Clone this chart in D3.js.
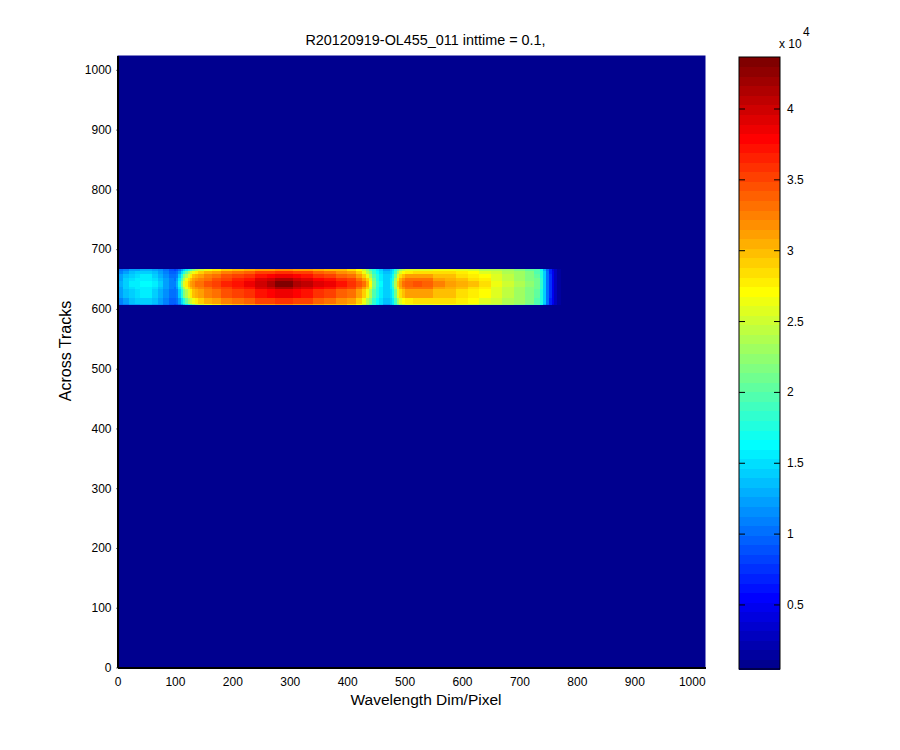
<!DOCTYPE html>
<html><head><meta charset="utf-8">
<style>
html,body{margin:0;padding:0;background:#fff}
svg{display:block}
text{font-family:"Liberation Sans",Arial,sans-serif;fill:#000}
.axis text{font-size:12px}
.axis path,.axis line{stroke:#000}
</style>
<script src="https://cdn.jsdelivr.net/npm/d3@7"></script>
</head><body><svg id="c" width="900" height="750"></svg>
<script>
const titleText = "R20120919-OL455_011 inttime = 0.1,";
const xLabelText = "Wavelength Dim/Pixel";
const yLabelText = "Across Tracks";
const axisTicks = [0,100,200,300,400,500,600,700,800,900,1000];
const cbarTicks = [0.5,1,1.5,2,2.5,3,3.5,4];
const cbarTickLabels = ["0.5","1","1.5","2","2.5","3","3.5","4"];
const axisMax = 1024;
const valueMin = 0.048, valueMax = 4.367;   // units of 10^4

// Wavelength bin starts; the last entry closes the final bin
const wavelengthBins = [0,10,20,30,40,50,60,70,80,90,
 98,102,106,110,114,118,122,126,130,135,
 140,150,165,180,200,220,240,260,275,290,
 305,320,340,360,380,400,415,425,432,438,
 444,450,456,462,468,474,478,482,486,490,
 495,500,515,530,550,570,590,610,630,650,
 670,690,710,725,735,741,746,751,756,761,
 766,771];

const coreScan = [1.3,1.45,1.55,1.6,1.65,1.65,1.55,1.4,1.25,1.12,
 1.08,1.3,1.7,2.2,2.6,2.8,3.0,3.1,3.2,3.3,
 3.35,3.45,3.55,3.65,3.75,3.85,4.0,4.15,4.32,4.32,
 4.15,4.05,3.95,3.85,3.75,3.6,3.45,3.3,3.05,2.7,
 2.2,1.85,1.65,1.45,1.45,1.6,1.9,2.4,2.9,3.15,
 3.3,3.4,3.45,3.4,3.25,3.15,3.05,2.95,2.85,2.65,
 2.5,2.35,2.25,2.1,1.85,1.45,1.05,.75,.5,.3,
 .15];
const stripeScan = [1.25,1.4,1.5,1.55,1.6,1.6,1.5,1.35,1.2,1.08,
 1.04,1.2,1.55,2.0,2.4,2.65,2.85,3.0,3.1,3.2,
 3.25,3.35,3.45,3.55,3.65,3.75,3.9,4.0,4.1,4.1,
 4.0,3.9,3.8,3.7,3.6,3.5,3.35,3.15,2.9,2.55,
 2.1,1.8,1.6,1.42,1.42,1.55,1.8,2.3,2.8,3.05,
 3.2,3.3,3.35,3.3,3.15,3.05,2.95,2.85,2.75,2.6,
 2.45,2.3,2.2,2.1,1.85,1.45,1.05,.75,.5,.3,
 .15];
const midScan = [1.2,1.35,1.45,1.5,1.55,1.55,1.45,1.3,1.15,1.05,
 1.0,1.1,1.4,1.8,2.15,2.4,2.6,2.8,2.95,3.05,
 3.15,3.25,3.35,3.45,3.55,3.6,3.7,3.8,3.85,3.85,
 3.8,3.7,3.6,3.5,3.4,3.3,3.1,2.9,2.65,2.35,
 2.0,1.75,1.55,1.4,1.4,1.5,1.7,2.1,2.6,2.85,
 3.0,3.1,3.15,3.1,3.0,2.95,2.85,2.8,2.7,2.55,
 2.45,2.3,2.2,2.05,1.8,1.45,1.05,.75,.5,.3,
 .15];
const shoulderScan = [1.1,1.25,1.35,1.4,1.45,1.45,1.35,1.2,1.08,.98,
 .95,1.0,1.2,1.5,1.8,2.05,2.3,2.5,2.65,2.8,
 2.9,3.05,3.15,3.25,3.3,3.4,3.5,3.55,3.6,3.6,
 3.55,3.5,3.4,3.3,3.2,3.1,2.9,2.65,2.4,2.15,
 1.85,1.65,1.5,1.35,1.35,1.42,1.6,1.9,2.3,2.55,
 2.7,2.8,2.85,2.85,2.85,2.85,2.8,2.7,2.6,2.5,
 2.4,2.3,2.15,2.0,1.75,1.4,1.0,.72,.48,.28,
 .14];
const edgeScan = [1.0,1.1,1.2,1.25,1.3,1.3,1.25,1.15,1.0,.9,
 .85,.9,1.0,1.2,1.4,1.6,1.8,2.0,2.2,2.35,
 2.5,2.65,2.8,2.9,3.0,3.05,3.1,3.15,3.2,3.2,
 3.15,3.1,3.05,3.0,2.95,2.85,2.7,2.5,2.25,2.0,
 1.75,1.55,1.4,1.25,1.25,1.35,1.5,1.75,2.05,2.3,
 2.45,2.55,2.6,2.6,2.65,2.65,2.6,2.5,2.4,2.35,
 2.3,2.2,2.05,1.95,1.7,1.3,.95,.68,.45,.26,
 .13];

// Across-track row boundaries and the scan that each row shows
const trackEdges = [608,610,614,620,634,637,642,648,652,660,664,667];
const rowScans = [edgeScan,shoulderScan,shoulderScan,midScan,stripeScan,coreScan,coreScan,stripeScan,midScan,shoulderScan,edgeScan];

const cbarLevels = d3.range(64);

const svg = d3.select("#c");
const x = d3.scaleLinear().domain([0,axisMax]).range([117.5,705.5]);
const y = d3.scaleLinear().domain([0,axisMax]).range([667.5,55.5]);
const c = d3.scaleLinear().domain([valueMin,valueMax]).range([669,57]);

const clamp = d3.scaleLinear().domain([0,1]).range([0,255]).clamp(true);
function jetIndex(i){
  const t=(i+1)/64;
  return `rgb(${Math.round(clamp(1.5-Math.abs(4*t-3)))},${Math.round(clamp(1.5-Math.abs(4*t-2)))},${Math.round(clamp(1.5-Math.abs(4*t-1)))})`;
}
const levelOf = d3.scaleQuantize().domain([valueMin,valueMax]).range(cbarLevels);
const colour = v => jetIndex(levelOf(v));

// image
svg.append("rect").attr("x",x(0)).attr("y",y(axisMax))
  .attr("width",x(axisMax)-x(0)).attr("height",y(0)-y(axisMax)).attr("fill",colour(valueMin));

const cells=[];
rowScans.forEach((scan,r)=>scan.forEach((v,k)=>cells.push({
  x0:wavelengthBins[k],x1:wavelengthBins[k+1],y0:trackEdges[r],y1:trackEdges[r+1],v})));
svg.append("g").attr("shape-rendering","crispEdges").selectAll("rect").data(cells).join("rect")
  .attr("x",d=>x(d.x0)).attr("y",d=>y(d.y1))
  .attr("width",d=>x(d.x1)-x(d.x0)+0.6).attr("height",d=>y(d.y0)-y(d.y1)+0.6)
  .attr("fill",d=>colour(d.v));

// axes
const gx=svg.append("g").attr("class","axis").attr("transform","translate(0,667.5)")
  .call(d3.axisBottom(x).tickValues(axisTicks).tickFormat(d3.format("d")).tickSize(0).tickSizeOuter(0).tickPadding(10));
gx.select(".domain").attr("stroke-width",2);
const gy=svg.append("g").attr("class","axis").attr("transform","translate(117.5,0)")
  .call(d3.axisLeft(y).tickValues(axisTicks).tickFormat(d3.format("d")).tickSize(1).tickSizeOuter(0).tickPadding(5));
gy.select(".domain").attr("stroke-width",2);
gy.selectAll(".tick line").attr("stroke-width",1);

// colourbar
const cbX0=739,cbX1=780;
svg.append("g").attr("shape-rendering","crispEdges").selectAll("rect").data(cbarLevels).join("rect")
  .attr("x",cbX0).attr("width",cbX1-cbX0)
  .attr("y",i=>c(valueMin+(valueMax-valueMin)*(i+1)/64))
  .attr("height",(c.range()[0]-c.range()[1])/64+0.6)
  .attr("fill",jetIndex);
svg.append("rect").attr("x",cbX0).attr("y",57).attr("width",cbX1-cbX0).attr("height",612)
  .attr("fill","none").attr("stroke","#000").attr("stroke-width",1);
const cb=svg.append("g").selectAll("g").data(cbarTicks).join("g");
cb.append("line").attr("x1",cbX0).attr("x2",cbX0+6).attr("y1",c).attr("y2",c).attr("stroke","#000");
cb.append("line").attr("x1",cbX1-6).attr("x2",cbX1).attr("y1",c).attr("y2",c).attr("stroke","#000");
cb.append("text").attr("x",cbX1+7).attr("y",d=>c(d)+4).attr("font-size","12px").text((d,i)=>cbarTickLabels[i]);
svg.append("text").attr("x",779).attr("y",48).attr("font-size","12px").text("x 10");
svg.append("text").attr("x",803).attr("y",36).attr("font-size","12px").text("4");

// labels
svg.append("text").attr("x",425.5).attr("y",45).attr("text-anchor","middle").attr("font-size","14.4px").text(titleText);
svg.append("text").attr("x",426).attr("y",705).attr("text-anchor","middle").attr("font-size","15.5px").text(xLabelText);
svg.append("text").attr("transform","translate(71,351) rotate(-90)").attr("text-anchor","middle").attr("font-size","16px").text(yLabelText);
</script></body></html>
